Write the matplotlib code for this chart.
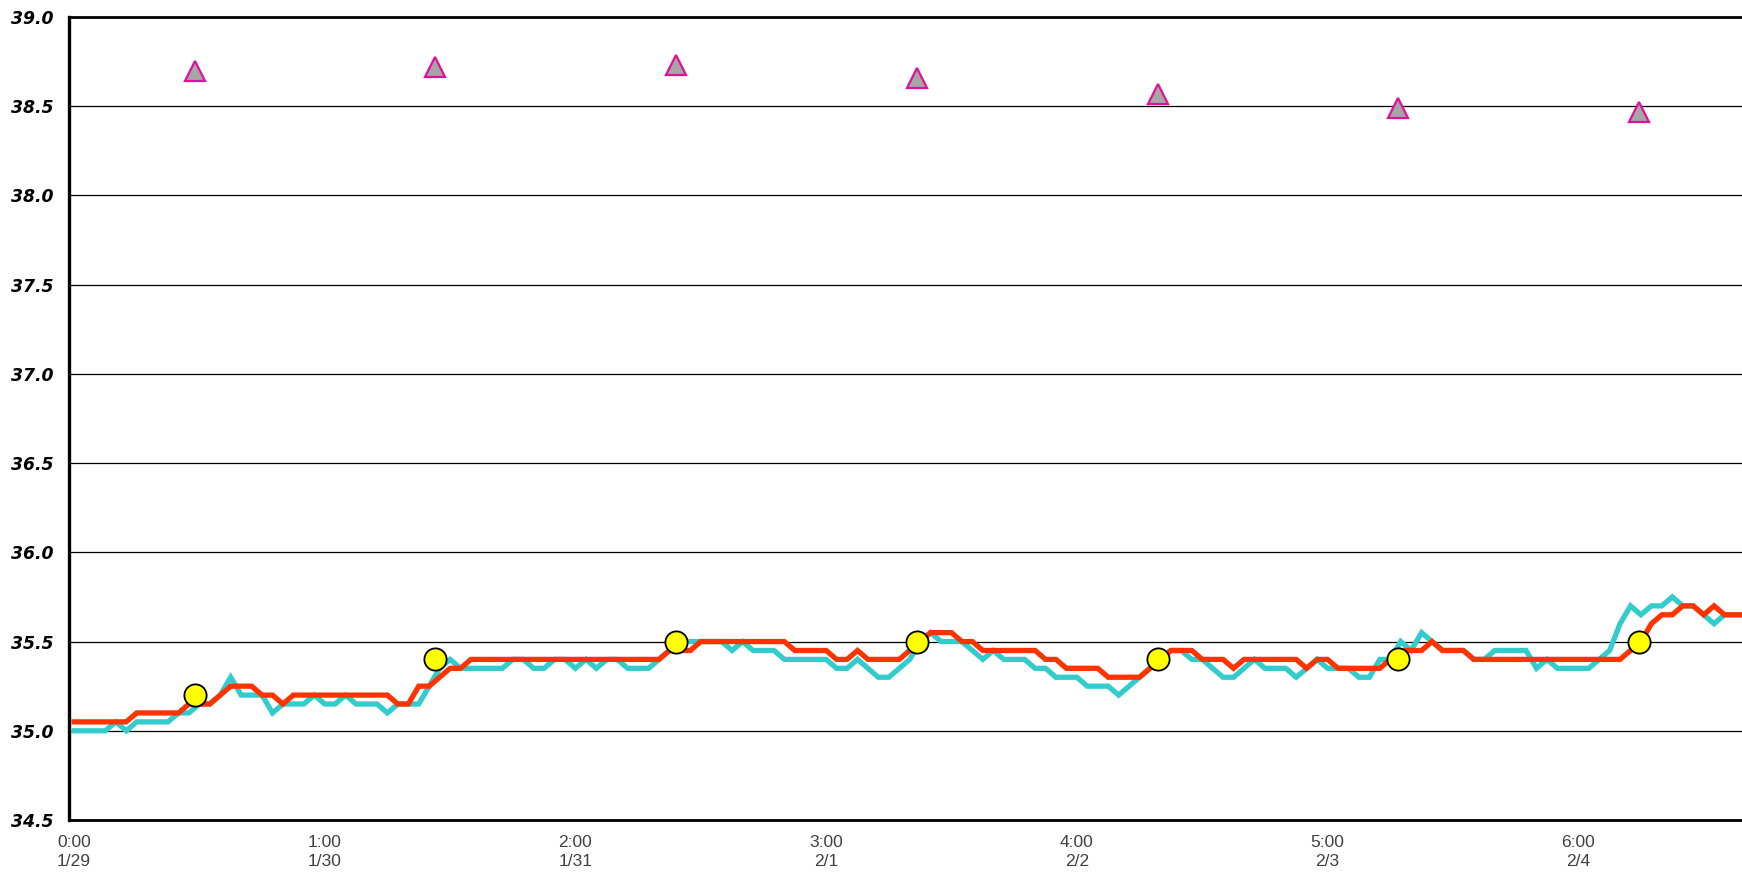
import numpy as np
import matplotlib
matplotlib.use("Agg")
import matplotlib.pyplot as plt

# hourly readings (one point per hour, 24 per day)
cyan_vals = [
    35.0, 35.0, 35.0, 35.0, 35.05, 35.0, 35.05, 35.05, 35.05, 35.05,
    35.1, 35.1, 35.15, 35.15, 35.2, 35.3, 35.2, 35.2, 35.2, 35.1,
    35.15, 35.15, 35.15, 35.2, 35.15, 35.15, 35.2, 35.15, 35.15, 35.15,
    35.1, 35.15, 35.15, 35.15, 35.25, 35.35, 35.4, 35.35, 35.35, 35.35,
    35.35, 35.35, 35.4, 35.4, 35.35, 35.35, 35.4, 35.4, 35.35, 35.4,
    35.35, 35.4, 35.4, 35.35, 35.35, 35.35, 35.4, 35.45, 35.5, 35.5,
    35.5, 35.5, 35.5, 35.45, 35.5, 35.45, 35.45, 35.45, 35.4, 35.4,
    35.4, 35.4, 35.4, 35.35, 35.35, 35.4, 35.35, 35.3, 35.3, 35.35,
    35.4, 35.5, 35.55, 35.5, 35.5, 35.5, 35.45, 35.4, 35.45, 35.4,
    35.4, 35.4, 35.35, 35.35, 35.3, 35.3, 35.3, 35.25, 35.25, 35.25,
    35.2, 35.25, 35.3, 35.35, 35.4, 35.45, 35.45, 35.4, 35.4, 35.35,
    35.3, 35.3, 35.35, 35.4, 35.35, 35.35, 35.35, 35.3, 35.35, 35.4,
    35.35, 35.35, 35.35, 35.3, 35.3, 35.4, 35.4, 35.5, 35.45, 35.55,
    35.5, 35.45, 35.45, 35.45, 35.4, 35.4, 35.45, 35.45, 35.45, 35.45,
    35.35, 35.4, 35.35, 35.35, 35.35, 35.35, 35.4, 35.45, 35.6, 35.7,
    35.65, 35.7, 35.7, 35.75, 35.7, 35.7, 35.65, 35.6, 35.65, 35.65,
    35.65,
]

red_vals = [
    35.05, 35.05, 35.05, 35.05, 35.05, 35.05, 35.1, 35.1, 35.1, 35.1,
    35.1, 35.15, 35.15, 35.15, 35.2, 35.25, 35.25, 35.25, 35.2, 35.2,
    35.15, 35.2, 35.2, 35.2, 35.2, 35.2, 35.2, 35.2, 35.2, 35.2,
    35.2, 35.15, 35.15, 35.25, 35.25, 35.3, 35.35, 35.35, 35.4, 35.4,
    35.4, 35.4, 35.4, 35.4, 35.4, 35.4, 35.4, 35.4, 35.4, 35.4,
    35.4, 35.4, 35.4, 35.4, 35.4, 35.4, 35.4, 35.45, 35.45, 35.45,
    35.5, 35.5, 35.5, 35.5, 35.5, 35.5, 35.5, 35.5, 35.5, 35.45,
    35.45, 35.45, 35.45, 35.4, 35.4, 35.45, 35.4, 35.4, 35.4, 35.4,
    35.45, 35.5, 35.55, 35.55, 35.55, 35.5, 35.5, 35.45, 35.45, 35.45,
    35.45, 35.45, 35.45, 35.4, 35.4, 35.35, 35.35, 35.35, 35.35, 35.3,
    35.3, 35.3, 35.3, 35.35, 35.4, 35.45, 35.45, 35.45, 35.4, 35.4,
    35.4, 35.35, 35.4, 35.4, 35.4, 35.4, 35.4, 35.4, 35.35, 35.4,
    35.4, 35.35, 35.35, 35.35, 35.35, 35.35, 35.4, 35.45, 35.45, 35.45,
    35.5, 35.45, 35.45, 35.45, 35.4, 35.4, 35.4, 35.4, 35.4, 35.4,
    35.4, 35.4, 35.4, 35.4, 35.4, 35.4, 35.4, 35.4, 35.4, 35.45,
    35.5, 35.6, 35.65, 35.65, 35.7, 35.7, 35.65, 35.7, 35.65, 35.65,
    35.65,
]

# once-a-day measurements (x in days)
daily_x = [0.483, 1.440, 2.401, 3.363, 4.324, 5.281, 6.243]
circle_vals = [35.2, 35.4, 35.5, 35.5, 35.4, 35.4, 35.5]
triangle_vals = [38.70, 38.72, 38.73, 38.66, 38.57, 38.49, 38.47]

tick_labels = ["0:00\n1/29", "1:00\n1/30", "2:00\n1/31", "3:00\n2/1",
               "4:00\n2/2", "5:00\n2/3", "6:00\n2/4"]

hours_x = np.arange(len(cyan_vals)) / 24.0

W, H = 1742, 874
fig = plt.figure(figsize=(W / 100, H / 100), dpi=100)
ax = fig.add_axes([69 / W, (H - 820) / H, (W - 69) / W, 803 / H])

ax.plot(hours_x, cyan_vals, color="#33CCCC", lw=3.8, zorder=3,
        solid_joinstyle="miter")
ax.plot(hours_x, red_vals, color="#FF3300", lw=3.8, zorder=4,
        solid_joinstyle="miter")
ax.plot(daily_x, circle_vals, ls="none", marker="o", ms=16,
        mfc="#FFFF00", mec="black", mew=1.3, zorder=5)
ax.plot(daily_x, triangle_vals, ls="none", marker="^", ms=15,
        mfc="#A6A6A6", mec="#E0109A", mew=1.6, zorder=5)

ax.set_ylim(34.5, 39.0)
ax.set_xlim(-0.02, 6.653)
ax.set_yticks(np.arange(34.5, 39.01, 0.5))
ax.set_yticklabels([f"{v:.1f}" for v in np.arange(34.5, 39.01, 0.5)],
                   fontsize=12.4, fontweight="bold", fontstyle="italic",
                   family="DejaVu Sans")
ax.set_xticks(range(len(tick_labels)))
ax.set_xticklabels(tick_labels, fontsize=12.5, family="Liberation Sans",
                   color="#404040", linespacing=1.3)
ax.tick_params(axis="y", length=0, pad=11)
ax.tick_params(axis="x", length=0, pad=11)

ax.grid(axis="y", color="black", lw=0.9, zorder=1)
ax.set_axisbelow(True)

ax.spines["right"].set_visible(False)
ax.spines["left"].set_linewidth(2.4)
ax.spines["top"].set_linewidth(2.0)
ax.spines["bottom"].set_linewidth(2.0)

fig.savefig("out.png", dpi=100)
